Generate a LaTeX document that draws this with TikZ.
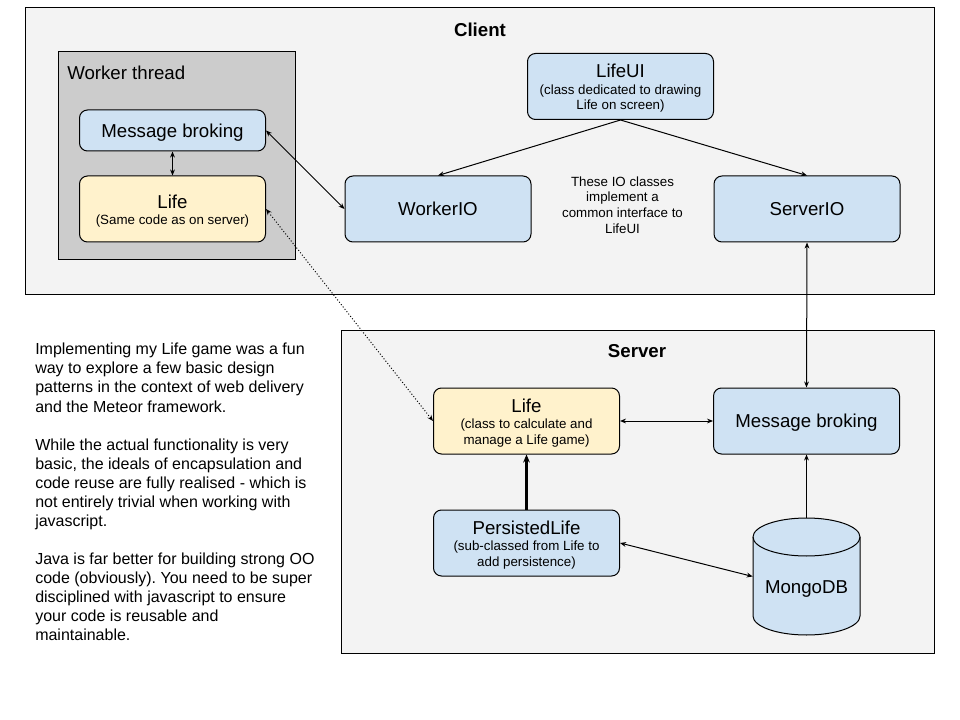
\documentclass[tikz,border=0pt]{standalone}
\usepackage{fontspec}
\setmainfont{Liberation Sans}
\frenchspacing
\usetikzlibrary{arrows.meta}
\definecolor{blueA}{HTML}{CFE2F3}
\definecolor{yellowA}{HTML}{FFF2CC}
\definecolor{grayA}{HTML}{CCCCCC}
\definecolor{bgA}{HTML}{F3F3F3}
\newcommand{\boxtitle}[1]{{\fontsize{14}{16}\selectfont #1}}
\newcommand{\multititle}[1]{{\fontsize{14}{16}\selectfont\rule{0pt}{13pt}#1}\\[0.8pt]}
\tikzset{
  region/.style={draw=black, line width=0.75pt, fill=bgA},
  cls/.style={draw=black, line width=0.75pt, rounded corners=6pt, align=center, inner sep=0pt,
     font=\fontsize{10}{11.6}\selectfont, minimum width=139.5pt, minimum height=49.5pt},
  single/.style={text height=10pt, text depth=0pt},
  conn/.style={line width=0.75pt, -{Stealth[length=4.5pt,width=3.6pt]}},
  dconn/.style={line width=0.75pt, {Stealth[length=4.5pt,width=3.6pt]}-{Stealth[length=4.5pt,width=3.6pt]}},
  thickconn/.style={line width=1.6pt, -{Stealth[length=6pt,width=5pt]}},
}
\begin{document}
\begin{tikzpicture}[x=0.75pt,y=-0.75pt]
\useasboundingbox[fill=white] (0,0) rectangle (960,720);
% Client region
\draw[region] (25,8) rectangle (934,295);
\node[font=\fontsize{14}{16}\selectfont\bfseries] (clienttitle) at (480,29.5) {Client};
% Worker thread
\draw[draw=black, line width=0.75pt, fill=grayA] (58,52) rectangle (295,260);
\node[font=\fontsize{14}{16}\selectfont, anchor=west, inner sep=0pt] (workertitle) at (67,73) {Worker thread};
\node[cls, single, fill=blueA, minimum height=30.75pt] (mbw) at (172.5,130.5) {\boxtitle{Message broking}};
\node[cls, fill=yellowA] (lifew) at (172.5,209) {\multititle{Life}(Same code as on server)};
\node[cls, fill=blueA] (lifeui) at (620.5,86.5) {\multititle{LifeUI}(class dedicated to drawing\\Life on screen)};
\node[cls, single, fill=blueA] (wio) at (438,209) {\boxtitle{WorkerIO}};
\node[cls, single, fill=blueA] (sio) at (807,209) {\boxtitle{ServerIO}};
\node[align=center, font=\fontsize{10}{11.7}\selectfont, inner sep=0pt] (note) at (622.5,205) {These IO classes\\implement a\\common interface to\\LifeUI};
% Server region
\draw[region] (341,330) rectangle (934,653);
\node[font=\fontsize{14}{16}\selectfont\bfseries] (servertitle) at (637,351.5) {Server};
\node[cls, fill=yellowA] (lifes) at (526.5,421) {\multititle{Life}(class to calculate and\\manage a Life game)};
\node[cls, single, fill=blueA] (mbs) at (806.5,421) {\boxtitle{Message broking}};
\node[cls, fill=blueA] (pl) at (526.5,543) {\multititle{PersistedLife}(sub-classed from Life to\\add persistence)};
% MongoDB cylinder
\draw[line width=0.75pt, fill=blueA]
  (753,537) -- (753,616)
  .. controls (753,626.5) and (776.95,635) .. (806.5,635)
  .. controls (836.05,635) and (860,626.5) .. (860,616)
  -- (860,537)
  .. controls (860,526.5) and (836.05,518) .. (806.5,518)
  .. controls (776.95,518) and (753,526.5) .. (753,537) -- cycle;
\draw[line width=0.75pt]
  (753,537) .. controls (753,547.5) and (776.95,556) .. (806.5,556)
  .. controls (836.05,556) and (860,547.5) .. (860,537);
\node[minimum width=80.25pt, minimum height=87.75pt, inner sep=0pt] (mongo) at (806.5,576.5) {};
\node[font=\fontsize{14}{16}\selectfont, inner sep=0pt, text height=10pt, text depth=0pt] (mongolabel) at (806.5,587) {MongoDB};
% Left text
\node[anchor=north west, align=left, inner sep=0pt, font=\fontsize{12}{14.3}\selectfont] (story) at (35,343)
{Implementing my Life game was a fun\\
way to explore a few basic design\\
patterns in the context of web delivery\\
and the Meteor framework.\\[14.3pt]
While the actual functionality is very\\
basic, the ideals of encapsulation and\\
code reuse are fully realised - which is\\
not entirely trivial when working with\\
javascript.\\[14.3pt]
Java is far better for building strong OO\\
code (obviously). You need to be super\\
disciplined with javascript to ensure\\
your code is reusable and\\
maintainable.};
% Connectors
\draw[dconn] (mbw.east) -- (wio.west);
\draw[dconn] (mbw.south) -- (lifew.north);
\draw[conn] (lifeui.south) -- (wio.north);
\draw[conn] (lifeui.south) -- (sio.north);
\draw[dconn] (sio.south) -- (mbs.north);
\draw[dconn] (lifes.east) -- (mbs.west);
\draw[thickconn] (pl.north) -- (lifes.south);
\draw[dconn] (pl.east) -- (mongo.west);
\draw[conn] (mongo.north) -- (mbs.south);
\draw[dconn, dash pattern=on 0.75pt off 1.5pt] (lifes.west) -- (lifew.east);
\end{tikzpicture}
\end{document}
